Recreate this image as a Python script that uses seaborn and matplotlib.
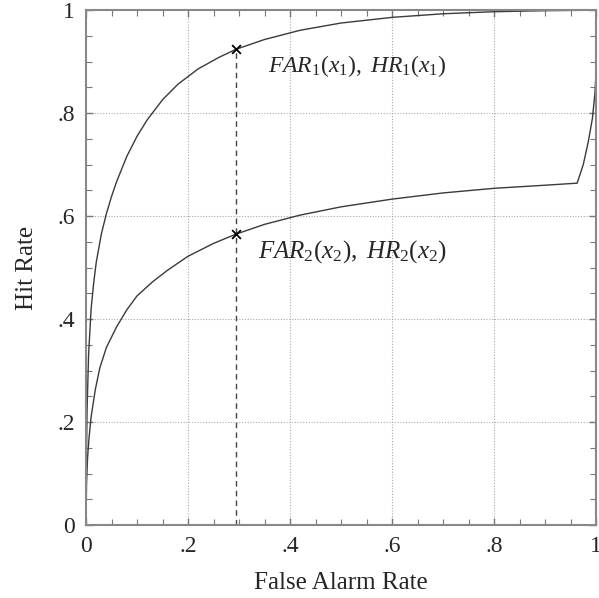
import matplotlib
matplotlib.use("Agg")
import matplotlib.pyplot as plt
import seaborn as sns
import pandas as pd
from matplotlib.ticker import MultipleLocator, FixedLocator

# ---- data ----
far_1 = [0.0, 0.0005, 0.002, 0.005, 0.01, 0.015, 0.02, 0.03, 0.04, 0.05, 0.06,
         0.08, 0.10, 0.12, 0.15, 0.18, 0.22, 0.26, 0.294, 0.35, 0.42, 0.5,
         0.6, 0.7, 0.8, 0.9, 1.0]
hr_1 = [0.0, 0.10, 0.22, 0.33, 0.42, 0.47, 0.51, 0.565, 0.605, 0.638, 0.667,
        0.716, 0.755, 0.787, 0.826, 0.856, 0.886, 0.908, 0.924, 0.943, 0.961, 0.975,
        0.986, 0.993, 0.997, 0.999, 1.0]

far_2 = [0.0, 0.001, 0.003, 0.006, 0.01, 0.018, 0.027, 0.04, 0.06, 0.08, 0.10,
         0.13, 0.16, 0.2, 0.25, 0.294, 0.35, 0.42, 0.5, 0.6, 0.7, 0.8, 0.9,
         0.963, 0.975, 0.985, 0.993, 0.998, 1.0, 1.0]
hr_2 = [0.0, 0.08, 0.13, 0.17, 0.21, 0.262, 0.305, 0.345, 0.385, 0.418, 0.445,
        0.472, 0.495, 0.522, 0.547, 0.565, 0.584, 0.602, 0.618, 0.633, 0.645, 0.654, 0.66,
        0.664, 0.70, 0.745, 0.79, 0.84, 0.88, 1.0]

point_far = [0.294, 0.294]
point_hr = [0.924, 0.565]
point_labels = [r"$FAR_1(x_1),\ HR_1(x_1)$", r"$FAR_2(x_2),\ HR_2(x_2)$"]

x_ticks = [0, 0.2, 0.4, 0.6, 0.8, 1.0]
x_ticklabels = ["0", ".2", ".4", ".6", ".8", "1"]
y_ticks = [0, 0.2, 0.4, 0.6, 0.8, 1.0]
y_ticklabels = ["0", ".2", ".4", ".6", ".8", "1"]

# ---- style ----
sns.set_theme(style="white")
plt.rcParams["font.family"] = ["Liberation Serif", "DejaVu Serif"]
plt.rcParams["mathtext.fontset"] = "custom"
plt.rcParams["mathtext.it"] = "Liberation Serif:italic"
plt.rcParams["mathtext.rm"] = "Liberation Serif"

fig = plt.figure(figsize=(5.99, 5.98), dpi=100)
ax = fig.add_axes([0.1436, 0.122, 0.8514, 0.861])

df1 = pd.DataFrame({"FAR": far_1, "HR": hr_1})
df2 = pd.DataFrame({"FAR": far_2, "HR": hr_2})
sns.lineplot(data=df1, x="FAR", y="HR", sort=False, estimator=None,
             color="#3a3a3a", lw=1.0, ax=ax)
sns.lineplot(data=df2, x="FAR", y="HR", sort=False, estimator=None,
             color="#3a3a3a", lw=1.0, ax=ax)

# dashed criterion line
ax.plot([point_far[0], point_far[0]], [0, point_hr[0]], ls=(0, (4, 3)),
        color="#444444", lw=1.0)

sns.scatterplot(x=point_far, y=point_hr, marker="x", color="black", s=40,
                linewidth=1.3, ax=ax, zorder=5)

ax.text(0.357, 0.88, point_labels[0], fontsize=17, ha="left", va="baseline")
ax.text(0.337, 0.52, point_labels[1], fontsize=18, ha="left", va="baseline")

ax.set_xlim(0, 1)
ax.set_ylim(0, 1)
ax.xaxis.set_major_locator(FixedLocator(x_ticks))
ax.yaxis.set_major_locator(FixedLocator(y_ticks))
ax.set_xticklabels(x_ticklabels)
ax.set_yticklabels(y_ticklabels)
ax.xaxis.set_minor_locator(MultipleLocator(0.05))
ax.yaxis.set_minor_locator(MultipleLocator(0.05))

ax.tick_params(which="both", direction="in", top=True, right=True,
               bottom=True, left=True, color="#777777")
ax.tick_params(which="major", length=5, width=1, labelsize=17, pad=8)
ax.tick_params(which="minor", length=4, width=0.8)

for sp in ax.spines.values():
    sp.set_color("#888888")
    sp.set_linewidth(1.5)

for v in [0.2, 0.4, 0.6, 0.8]:
    ax.axvline(v, color="#aaaaaa", lw=0.8, ls=(0, (1, 1.5)), zorder=0)
    ax.axhline(v, color="#aaaaaa", lw=0.8, ls=(0, (1, 1.5)), zorder=0)

ax.set_xlabel("False Alarm Rate", fontsize=18, labelpad=11)
ax.set_ylabel("Hit Rate", fontsize=18, labelpad=14)

fig.savefig("out.png", dpi=100)
